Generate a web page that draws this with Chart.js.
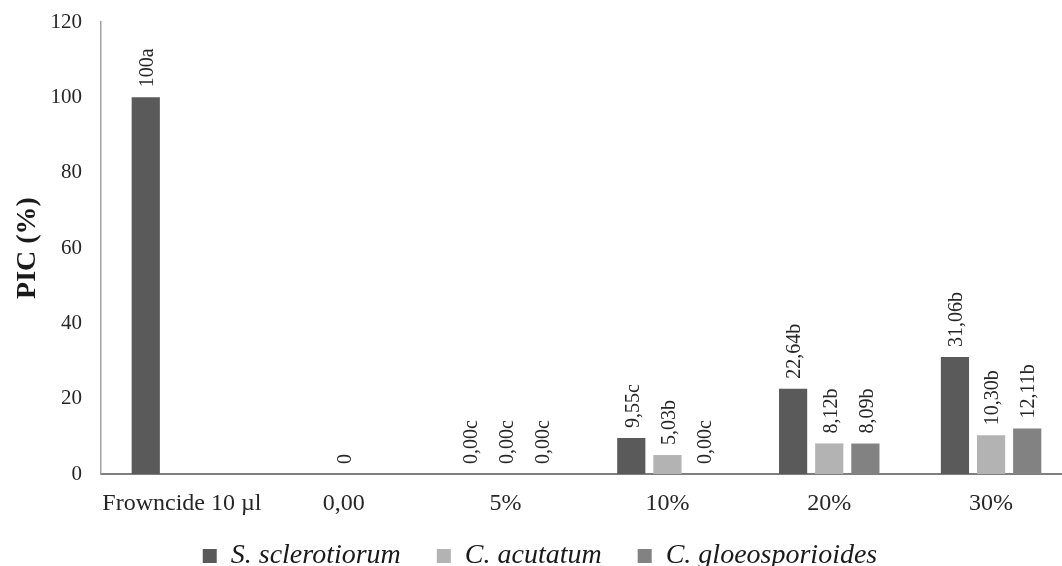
<!DOCTYPE html>
<html>
<head>
<meta charset="utf-8">
<script src="https://cdn.jsdelivr.net/npm/chart.js@4/dist/chart.umd.min.js"></script>
<style>
  html, body { margin: 0; padding: 0; background: #fff; overflow: hidden; }
  #wrap { position: absolute; left: 0; top: 0; width: 1072px; height: 566px; }
</style>
</head>
<body>
<div id="wrap"><canvas id="c"></canvas></div>
<script>
const categories = ["Frowncide 10 \u00b5l", "0,00", "5%", "10%", "20%", "30%"];
const seriesNames = ["S. sclerotiorum", "C. acutatum", "C. gloeosporioides"];
const sclerotiorum = [100, 0, 0, 9.55, 22.64, 31.06];
const acutatum = [0, 0, 0, 5.03, 8.12, 10.30];
const gloeosporioides = [0, 0, 0, 0, 8.09, 12.11];
const sclerotiorumLabels = ["100a", "", "0,00c", "9,55c", "22,64b", "31,06b"];
const acutatumLabels = ["", "0", "0,00c", "5,03b", "8,12b", "10,30b"];
const gloeosporioidesLabels = ["", "", "0,00c", "0,00c", "8,09b", "12,11b"];
const yTicks = [0, 20, 40, 60, 80, 100, 120];

const serif = "'Liberation Serif', 'Times New Roman', serif";

const barLabelPlugin = {
  id: 'barLabels',
  afterInit(chart) {
    const lg = chart.legend;
    if (lg) {
      const origFit = lg.fit.bind(lg);
      lg.fit = function () { origFit(); this.height = 44; };
    }
  },
  afterLayout(chart) {
    const lg = chart.legend;
    if (lg) {
      lg.top = 506;
      lg.bottom = 566;
      lg.left += 8;
    }
  },
  afterDatasetsDraw(chart) {
    const ctx = chart.ctx;
    ctx.save();
    ctx.font = "20px " + serif;
    ctx.fillStyle = "#262626";
    ctx.textAlign = "left";
    ctx.textBaseline = "middle";
    chart.data.datasets.forEach((ds, di) => {
      const meta = chart.getDatasetMeta(di);
      meta.data.forEach((bar, i) => {
        const txt = ds.barLabels[i];
        if (!txt) return;
        ctx.save();
        ctx.translate(bar.x + 2, bar.y - 10);
        ctx.rotate(-Math.PI / 2);
        ctx.fillText(txt, 0, 0);
        ctx.restore();
      });
    });
    ctx.restore();
  }
};

new Chart(document.getElementById('c'), {
  type: 'bar',
  data: {
    labels: categories,
    datasets: [
      { label: seriesNames[0], data: sclerotiorum, barLabels: sclerotiorumLabels, backgroundColor: '#5a5a5a' },
      { label: seriesNames[1], data: acutatum, barLabels: acutatumLabels, backgroundColor: '#b3b3b3' },
      { label: seriesNames[2], data: gloeosporioides, barLabels: gloeosporioidesLabels, backgroundColor: '#828282' }
    ]
  },
  options: {
    responsive: true,
    maintainAspectRatio: false,
    animation: false,
    layout: { padding: { left: 0, right: 0, top: 22, bottom: 0 } },
    datasets: { bar: { categoryPercentage: 0.67, barPercentage: 0.78 } },
    scales: {
      x: {
        afterFit(scale) { scale.height = 48; },
        grid: { display: false, drawTicks: false },
        border: { display: true, color: '#7f7f7f', width: 2 },
        ticks: { font: { family: serif, size: 24 }, color: '#262626', padding: 15, maxRotation: 0, autoSkip: false }
      },
      y: {
        min: 0, max: 120,
        afterBuildTicks(scale) { scale.ticks = yTicks.map(v => ({ value: v })); },
        afterFit(scale) { scale.width = 101; scale.paddingTop = 0; scale.paddingBottom = 0; },
        grid: { display: false, drawTicks: false },
        border: { display: true, color: '#a0a0a0', width: 1.5 },
        ticks: { font: { family: serif, size: 21 }, color: '#262626', padding: 19 },
        title: { display: true, text: 'PIC (%)', font: { family: serif, size: 28, weight: 'bold' }, color: '#1a1a1a', padding: { top: 11, bottom: 0 } }
      }
    },
    plugins: {
      legend: {
        position: 'bottom',
        labels: { font: { family: serif, size: 28, style: 'italic' }, color: '#1a1a1a', boxWidth: 14, boxHeight: 14, padding: 36 }
      },
      tooltip: { enabled: false }
    }
  },
  plugins: [barLabelPlugin]
});
</script>
</body>
</html>
